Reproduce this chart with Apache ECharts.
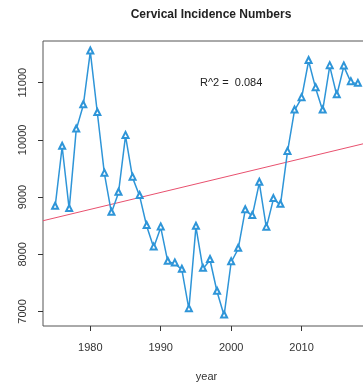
<!DOCTYPE html>
<html>
<head>
<meta charset="utf-8">
<script src="https://cdn.jsdelivr.net/npm/echarts@6/dist/echarts.min.js"></script>
<style>
  html, body { margin: 0; padding: 0; background: #fff; }
  #chart { width: 363px; height: 383px; }
</style>
</head>
<body>
<div id="chart"></div>
<script>
// Annual cervical cancer incidence counts
const years = [1975,1976,1977,1978,1979,1980,1981,1982,1983,1984,1985,1986,1987,1988,1989,
               1990,1991,1992,1993,1994,1995,1996,1997,1998,1999,2000,2001,2002,2003,2004,
               2005,2006,2007,2008,2009,2010,2011,2012,2013,2014,2015,2016,2017,2018];
const counts = [8830,9880,8790,10180,10605,11545,10470,9410,8725,9075,10070,9340,9020,8495,8120,
                8470,7870,7840,7730,7040,8480,7745,7900,7345,6930,7860,8095,8770,8670,9250,
                8465,8965,8865,9790,10515,10730,11380,10905,10515,11290,10780,11285,11010,10980];
const xTicks = [1980, 1990, 2000, 2010];
const yTicks = [7000, 8000, 9000, 10000, 11000];
const r2Text = 'R^2 =  0.084';
const r2Pos = [2000, 11000];

// Ordinary least squares fit of counts on year
function fitLine(xs, ys) {
  const n = xs.length;
  const mx = xs.reduce((a, b) => a + b, 0) / n;
  const my = ys.reduce((a, b) => a + b, 0) / n;
  let sxy = 0, sxx = 0;
  for (let i = 0; i < n; i++) {
    sxy += (xs[i] - mx) * (ys[i] - my);
    sxx += (xs[i] - mx) * (xs[i] - mx);
  }
  const b = sxy / sxx;
  return { a: my - b * mx, b: b };
}

// Axis ranges: data range padded by 4% on each side
function padded(vals) {
  const lo = Math.min(...vals), hi = Math.max(...vals);
  const d = (hi - lo) * 0.04;
  return [lo - d, hi + d];
}
const xr = padded(years);
const yr = padded(counts);
const fit = fitLine(years, counts);

const chart = echarts.init(document.getElementById('chart'), null, { renderer: 'canvas' });
const font = 'Liberation Sans, Arial, Helvetica, sans-serif';

chart.setOption({
  animation: false,
  backgroundColor: '#ffffff',
  title: {
    text: 'Cervical Incidence Numbers',
    left: 206,
    top: 4,
    textAlign: 'center',
    textStyle: { fontFamily: font, fontSize: 12, fontWeight: 'bold', color: '#222' }
  },
  grid: {
    left: 43, top: 41, width: 327, height: 285,
    outerBoundsMode: 'none',
    containLabel: false,
    show: true, borderColor: '#555', borderWidth: 1, backgroundColor: 'transparent'
  },
  xAxis: {
    type: 'value',
    min: xr[0], max: xr[1],
    name: 'year',
    nameLocation: 'middle',
    nameGap: 45,
    nameTextStyle: { fontFamily: font, fontSize: 11, color: '#333' },
    axisLine: { show: false },
    splitLine: { show: false },
    axisTick: { show: true, length: 5, inside: false, customValues: xTicks, lineStyle: { color: '#333' } },
    axisLabel: { customValues: xTicks, margin: 16, fontFamily: font, fontSize: 11, color: '#333',
                 formatter: v => String(v) }
  },
  yAxis: {
    type: 'value',
    min: yr[0], max: yr[1],
    axisLine: { show: false },
    splitLine: { show: false },
    axisTick: { show: true, length: 5, inside: false, customValues: yTicks, lineStyle: { color: '#333' } },
    axisLabel: { customValues: yTicks, rotate: 90, margin: 15, fontFamily: font, fontSize: 11, color: '#333',
                 formatter: v => String(v) }
  },
  series: [
    {
      type: 'line',
      data: [[xr[0], fit.a + fit.b * xr[0]], [xr[1], fit.a + fit.b * xr[1]]],
      symbol: 'none',
      lineStyle: { color: '#E8506E', width: 1 },
      z: 1,
      silent: true
    },
    {
      type: 'line',
      data: years.map((y, i) => [y, counts[i]]),
      symbol: 'emptyTriangle',
      symbolSize: 6,
      symbolOffset: [0, -1],
      showAllSymbol: true,
      lineStyle: { color: '#2E95D8', width: 1.5 },
      itemStyle: { color: '#2E95D8', borderColor: '#2E95D8', borderWidth: 1.3 },
      z: 2,
      markPoint: {
        symbol: 'circle',
        symbolSize: 0,
        data: [{ coord: r2Pos }],
        label: {
          show: true, position: 'inside', formatter: r2Text,
          fontFamily: font, fontSize: 11, color: '#222'
        }
      }
    }
  ]
});
</script>
</body>
</html>
